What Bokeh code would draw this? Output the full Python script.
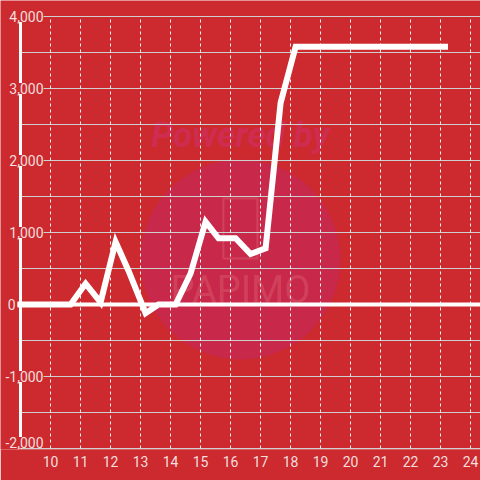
from bokeh.plotting import figure
from bokeh.models import Range1d, FixedTicker, LabelSet, Label, ColumnDataSource
from bokeh.embed import file_html
from bokeh.resources import INLINE
from bokeh.core.properties import value

# ---- data ----
hours = [8.9, 10.67, 11.17, 11.67, 12.17, 12.6, 13.17, 13.6, 14.17, 14.67,
         15.17, 15.6, 16.17, 16.67, 17.17, 17.67, 18.17, 23.25]
values = [0, 0, 290, 30, 870, 470, -120, 0, 0, 430,
          1150, 920, 920, 700, 780, 2800, 3580, 3580]
x_axis_origin = 9
x_ticks = list(range(10, 25))
y_grid_ticks = list(range(-2000, 4001, 500))
y_label_values = [-2000, -1000, 1000, 2000, 3000, 4000]
y_label_texts = ["-2,000", "-1,000", "1,000", "2,000", "3,000", "4,000"]
zero_label = "0"

BG = "#cc2a2f"
LABEL = "#f3dede"
FONT = value("Roboto")

W = H = 480
px_x = 30.0          # pixels per hour
px_y = 72.0 / 1000   # pixels per unit
x0 = x_ticks[0] - 50 / px_x
x1 = x_ticks[0] + (W - 50) / px_x
y_top = y_grid_ticks[-1] + 16 / px_y
y_bot = y_grid_ticks[0] - 1 / px_y

p = figure(width=W, height=H, output_backend="svg", toolbar_location=None,
           x_range=Range1d(x0, x1), y_range=Range1d(y_bot, y_top),
           min_border_left=0, min_border_right=0, min_border_top=0, min_border_bottom=31,
           background_fill_color=BG, border_fill_color=BG, outline_line_color=None)
p.yaxis.visible = False
p.grid.visible = False

ymin, ymax = min(y_grid_ticks), max(y_grid_ticks)

# ---- watermark ----
p.circle(x=[16.33], y=[625], radius=100, radius_units="screen",
         fill_color="#c8284a", line_color=None, level="image")
p.text(x=[16.33], y=[2347], text=["Powered by"], text_font=FONT,
       text_font_style="bold italic", text_font_size="35px", text_color="#cf2c52",
       text_align="center", text_baseline="middle", level="image")
p.rect(x=[16.33], y=[1056], width=34, height=60, width_units="screen", height_units="screen",
       fill_color=None, line_color="#dd6070", line_alpha=0.45, line_width=2, level="image")
p.text(x=[16.33], y=[208], text=["PAPIMO"], text_font=FONT,
       text_font_size="38px", text_color="#dd6070", text_alpha=0.45,
       text_align="center", text_baseline="middle", level="image")

# ---- grid lines (from tick lists) ----
p.segment(x0=[x_axis_origin] * len(y_grid_ticks), y0=y_grid_ticks,
          x1=[x1] * len(y_grid_ticks), y1=y_grid_ticks,
          line_color="#cfcfcf", line_width=1)
p.segment(x0=x_ticks, y0=[ymin] * len(x_ticks), x1=x_ticks, y1=[ymax] * len(x_ticks),
          line_color="#f2f2f2", line_width=1, line_dash="3 3")

# y axis line and zero line
p.segment(x0=[x_axis_origin], y0=[ymin], x1=[x_axis_origin], y1=[ymax],
          line_color="white", line_width=3)
p.segment(x0=[hours[0]], y0=[0], x1=[x1], y1=[0], line_color="white", line_width=4)

# ---- data line ----
p.line(hours, values, line_color="white", line_width=6, line_join="miter")

# ---- x axis ----
p.xaxis.ticker = FixedTicker(ticks=x_ticks)
p.xaxis.axis_line_color = None
p.xaxis.major_tick_line_color = None
p.xaxis.minor_tick_line_color = None
p.xaxis.major_label_text_color = LABEL
p.xaxis.major_label_text_font = "Roboto"
p.xaxis.major_label_text_font_size = "14px"
p.xaxis.major_label_standoff = 0

# ---- y labels ----
src = ColumnDataSource(dict(y=y_label_values[1:], text=y_label_texts[1:]))
p.add_layout(LabelSet(x=43, x_units="screen", y="y", text="text", source=src,
                      text_align="right", text_baseline="middle", text_color=LABEL,
                      text_font=FONT, text_font_size="14px",
                      background_fill_color=BG))
p.add_layout(Label(x=43, x_units="screen", y=y_label_values[0], y_offset=6,
                   text=y_label_texts[0], text_align="right", text_baseline="middle",
                   text_color=LABEL, text_font="Roboto", text_font_size="14px",
                   background_fill_color=BG))
p.add_layout(Label(x=15, x_units="screen", y=0, text=zero_label,
                   text_align="right", text_baseline="middle", text_color=LABEL,
                   text_font="Roboto", text_font_size="14px", background_fill_color=BG))

open("out.html", "w").write(file_html(p, INLINE))
